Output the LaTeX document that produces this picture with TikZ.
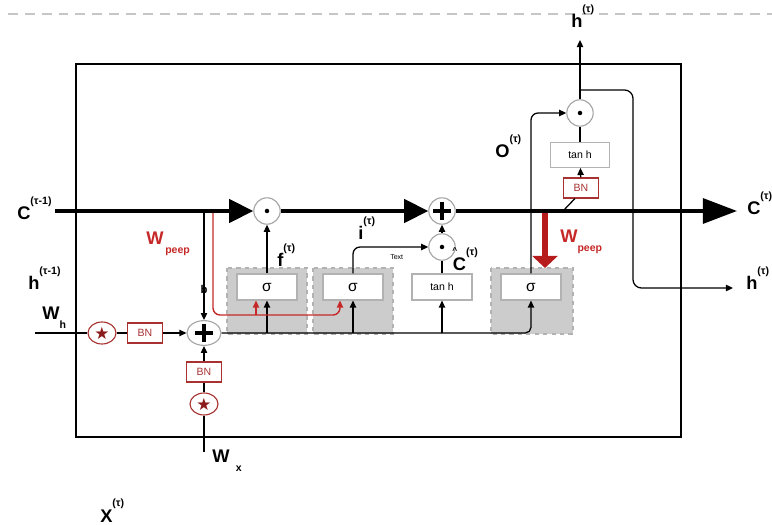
\documentclass[tikz,border=0pt]{standalone}
\usepackage{fontspec}
\setmainfont{Liberation Sans}
\newfontfamily\starfont{DejaVu Sans}
\usetikzlibrary{arrows.meta,shapes.geometric}
\definecolor{peepred}{HTML}{C62828}
\definecolor{peepdark}{HTML}{B71C1C}
\definecolor{bnred}{HTML}{A83232}
\definecolor{starred}{HTML}{8B1A1A}
\newcommand{\supt}[1]{\raisebox{0.85em}{\fontsize{7.5}{7.5}\selectfont #1}}
\newcommand{\subt}[1]{\raisebox{-0.45em}{\fontsize{7.5}{7.5}\selectfont #1}}
\tikzset{
  lbl/.style={anchor=base west, inner sep=0, font=\fontsize{13}{13}\selectfont\bfseries},
  op/.style={circle, draw=gray!70, fill=white, thick, minimum size=0.66cm, inner sep=0},
  sumop/.style={ellipse, draw=gray!70, fill=white, thick, minimum width=0.85cm, minimum height=0.62cm, inner sep=0},
  starop/.style={ellipse, draw=bnred, fill=white, thick, minimum width=0.7cm, minimum height=0.55cm, inner sep=0, text=starred, font=\starfont\fontsize{12}{12}\selectfont},
  gate/.style={draw=gray!60, fill=white, thick, minimum width=1.5cm, minimum height=0.65cm, inner sep=0, font=\fontsize{11}{11}\selectfont},
  bnbox/.style={draw=bnred, fill=white, thick, text=bnred, font=\fontsize{7.5}{8}\selectfont, minimum width=0.87cm, minimum height=0.5cm, inner sep=0},
  gatebg/.style={fill=gray!40, draw=gray!60, dashed, thick},
  wire/.style={line width=0.9pt},
  conn/.style={line width=0.9pt, -{Triangle[length=5pt,width=4.5pt]}},
  peepline/.style={draw=peepred, line width=1pt, -{Triangle[length=5pt,width=4.5pt]}},
  cell/.style={line width=2.6pt, -{Triangle[length=0.6cm,width=0.58cm]}},
}

\begin{document}
\begin{tikzpicture}[x=0.025cm, y=-0.025cm]
  \useasboundingbox (0,0) rectangle (772,525);
  \draw[gray!45, line width=1.2pt, dash pattern=on 7pt off 5pt] (8,14) -- (772,14);
  \draw[line width=1.3pt] (76,64) rectangle (681,437);

  % gate backgrounds
  \draw[gatebg] (227,268) rectangle (307,334);
  \draw[gatebg] (313,268) rectangle (393,334);
  \draw[gatebg] (491,268) rectangle (573,334);

  % operators
  \node[op] (fmul) at (267,211) {};
  \node[op] (cadd) at (442,211) {};
  \node[op] (imul) at (442,247) {};
  \node[op] (omul) at (580,113) {};
  \node[sumop] (sum) at (204,333) {};
  \node[starop] (sh) at (102,333) {★};
  \node[bnbox] (bnh) at (145,333) {BN};
  \node[bnbox] (bnx) at (204,372) {BN};
  \node[starop] (sx) at (204,404) {★};

  % gates
  \node[gate] (gf) at (267,287) {σ};
  \node[gate] (gi) at (353,287) {σ};
  \node[gate, font=\fontsize{7.5}{8}\selectfont] (gc) at (442,287) {tan h};
  \node[gate] (go) at (531,287) {σ};
  \node[gate, minimum width=1.48cm, minimum height=0.62cm, font=\fontsize{7.5}{8}\selectfont] (th) at (580,155) {tan h};
  \node[bnbox] (bnc) at (581,188) {BN};

  \coordinate (cin) at (55,211);
  \coordinate (cout) at (737,211);
  \coordinate (btap) at (204,211);
  \coordinate (ptap) at (213,211);
  \coordinate (pturn) at (340,315);
  \coordinate (pfork) at (256,315);
  \coordinate (otap) at (545,213);
  \coordinate (oend) at (545,268);
  \coordinate (ctap) at (563,211);
  \coordinate (hin) at (35,333);
  \coordinate (xin) at (204,452);
  \coordinate (htop) at (580,40);
  \coordinate (hsplit) at (580,90);
  \coordinate (hcol) at (633,288);
  \coordinate (hright) at (733,288);

  % inputs
  \draw[wire] (hin) -- (sh);
  \draw[wire] (sh) -- (bnh);
  \draw[conn] (bnh) -- (sum);
  \draw[wire] (xin) -- (sx);
  \draw[wire] (sx) -- (bnx);
  \draw[conn] (bnx) -- (sum);
  \draw[conn] (btap) -- (sum);
  \node[font=\fontsize{8}{8}\selectfont\bfseries, inner sep=0] (blbl) at (204,289) {b};

  % bus to the gates
  \draw[conn, rounded corners=4pt] (sum.east) -| (go.south);
  \foreach \g in {gf,gi,gc}
    \draw[conn] (\g.south |- sum.east) -- (\g.south);
  \draw[peepline, rounded corners=5pt] (ptap) |- (pturn) -- (pturn |- gi.south);
  \draw[peepline] (pfork) -- (pfork |- gf.south);

  % gate outputs
  \draw[conn] (gf) -- (fmul);
  \draw[conn, rounded corners=5pt] (gi) |- (imul);
  \draw[wire] (gc) -- (imul);
  \draw[conn] (imul) -- (cadd);
  \draw[conn, rounded corners=5pt] (go) |- (omul);
  \draw[wire] (ctap) -- (bnc.-120);
  \draw[conn] (bnc) -- (th);
  \draw[wire] (th) -- (omul);
  \draw[conn] (omul) -- (htop);
  \draw[conn, rounded corners=6pt] (hsplit) -| (hcol) -- (hright);
  \draw[line width=3.6pt, peepdark, -{Triangle[length=0.3cm,width=0.62cm]}] (otap) -- (oend);

  % cell state
  \draw[cell] (cin) -- (fmul);
  \draw[cell] (fmul) -- (cadd);
  \draw[cell, -{Triangle[length=0.85cm,width=0.62cm]}] (cadd) -- (cout);

  \foreach \n in {fmul,imul,omul}
    \fill (\n.center) circle (1.6pt);
  \foreach \n in {sum,cadd}
    \draw[line width=2.2pt] (\n.center) ++(-9,0) -- ++(18,0) (\n.center) ++(0,-9) -- ++(0,18);

  % labels
  \node[lbl] (lcin) at (17,220) {C\supt{(τ-1)}};
  \node[lbl] (lhin) at (28,290) {h\supt{(τ-1)}};
  \node[lbl] (lwh) at (42,320) {W\subt{h}};
  \node[lbl, text=peepred] (lwp1) at (146,245) {W\subt{\,peep}};
  \node[lbl] (lf) at (277,267) {f\supt{(τ)}};
  \node[lbl] (li) at (358,240) {i\supt{(τ)}};
  \node[anchor=base west, inner sep=0, font=\fontsize{5}{5}\selectfont] (ltext) at (390,260) {Text};
  \node[lbl] (lct) at (452,271) {\raisebox{0.95em}{\fontsize{6}{6}\selectfont\textasciicircum}\kern-3pt C\supt{(τ)}};
  \node[lbl] (lo) at (495,158) {O\supt{(τ)}};
  \node[lbl, text=peepred] (lwp2) at (560,243) {W\subt{peep}};
  \node[lbl] (lhtop) at (571,28) {h\supt{(τ)}};
  \node[lbl] (lcout) at (747,215) {C\supt{(τ)}};
  \node[lbl] (lhout) at (746,290) {h\supt{(τ)}};
  \node[lbl] (lwx) at (212,463) {W\subt{\hspace{0.6em}x}};
  \node[lbl] (lx) at (100,522) {X\supt{(τ)}};
\end{tikzpicture}
\end{document}
